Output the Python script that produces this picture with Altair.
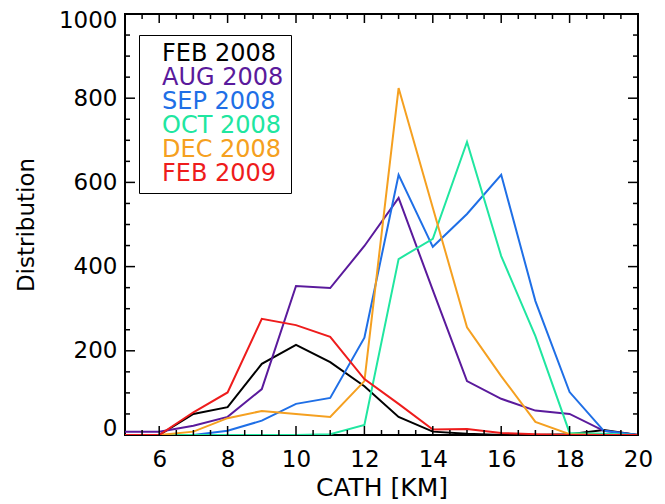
import altair as alt
import pandas as pd
import numpy as np

# ---- data ----
x_km = [5, 6, 7, 8, 9, 10, 11, 12, 13, 14, 15, 16, 17, 18, 19, 20]
series_names = ["FEB 2008", "AUG 2008", "SEP 2008", "OCT 2008", "DEC 2008", "FEB 2009"]
feb2008 = [0, 0, 50, 66, 169, 214, 173, 116, 43, 8, 3, 0, 0, 2, 12, 0]
aug2008 = [8, 8, 22, 43, 109, 354, 349, 449, 563, 344, 128, 86, 58, 50, 10, 0]
sep2008 = [0, 0, 0, 10, 34, 74, 88, 231, 618, 447, 525, 618, 318, 102, 10, 0]
oct2008 = [0, 0, 0, 0, 0, 0, 2, 24, 418, 466, 696, 425, 235, 5, 3, 0]
dec2008 = [0, 0, 8, 40, 57, 50, 43, 128, 824, 540, 256, 140, 31, 2, 0, 0]
feb2009 = [0, 0, 54, 101, 276, 261, 233, 133, 74, 13, 14, 5, 2, 0, 0, 0]
colors = ["#000000", "#5a1a9c", "#1f6fe6", "#20e6a0", "#f5a020", "#ee1c1c"]

values = [feb2008, aug2008, sep2008, oct2008, dec2008, feb2009]
rows = []
for name, vals in zip(series_names, values):
    for xv, yv in zip(x_km, vals):
        rows.append({"x": xv, "y": yv, "series": name})
df = pd.DataFrame(rows)

W, H = 513, 421
FONT = "DejaVu Sans"

xscale = alt.Scale(domain=[5, 20], nice=False, zero=False)
yscale = alt.Scale(domain=[0, 1000], nice=False)

xaxis = alt.Axis(title="CATH [KM]", values=list(range(6, 21, 2)),
                 format="d", ticks=False, tickSize=0, domain=False,
                 grid=False, labelFont=FONT, labelFontSize=23,
                 labelColor="black", labelPadding=13, labelFlush=False,
                 titleFont=FONT, titleFontSize=25,
                 titleFontWeight="normal", titleColor="black",
                 titlePadding=4)
yaxis = alt.Axis(title="Distribution", values=list(range(0, 1001, 200)),
                 format="d", ticks=False, tickSize=0, domain=False,
                 grid=False, labelFont=FONT, labelFontSize=23,
                 labelColor="black", labelPadding=8,
                 labelFlush=True, labelFlushOffset=5,
                 titleFont=FONT, titleFontSize=23,
                 titleFontWeight="normal", titleColor="black",
                 titlePadding=20)

lines = alt.Chart(df).mark_line(strokeWidth=2, clip=True).encode(
    x=alt.X("x:Q", scale=xscale, axis=xaxis),
    y=alt.Y("y:Q", scale=yscale, axis=yaxis),
    color=alt.Color("series:N",
                    scale=alt.Scale(domain=series_names, range=colors),
                    legend=alt.Legend(
                        title=None, orient="none", legendX=14, legendY=21,
                        symbolSize=0, symbolOpacity=0, symbolStrokeWidth=0,
                        labelOffset={"expr": "-8"}, labelFont=FONT, labelFontSize=24,
                        labelLimit=300, rowPadding={"expr": "-2"}, padding=7,
                        strokeColor="black", fillColor="white",
                        labelColor={"expr": "scale('color', datum.value)"})),
    detail="series:N",
)

# inward tick marks (IDL-style box axes)
x_major = pd.DataFrame({"t": np.arange(6, 20.01, 2)})
x_minor = pd.DataFrame({"t": [v for v in np.arange(5.5, 20, 0.5) if v % 2 != 0]})
y_major = pd.DataFrame({"t": np.arange(200, 1000, 200)})
y_minor = pd.DataFrame({"t": [v for v in np.arange(50, 1000, 50) if v % 200 != 0]})

def xticks(d, L):
    bot = alt.Chart(d).mark_rule(color="black", strokeWidth=1.5).encode(
        x=alt.X("t:Q", scale=xscale, axis=xaxis),
        y=alt.value(H), y2=alt.value(H - L))
    top = alt.Chart(d).mark_rule(color="black", strokeWidth=1.5).encode(
        x=alt.X("t:Q", scale=xscale, axis=xaxis),
        y=alt.value(0), y2=alt.value(L))
    return bot + top

def yticks(d, L):
    left = alt.Chart(d).mark_rule(color="black", strokeWidth=1.5).encode(
        y=alt.Y("t:Q", scale=yscale, axis=yaxis),
        x=alt.value(0), x2=alt.value(L))
    right = alt.Chart(d).mark_rule(color="black", strokeWidth=1.5).encode(
        y=alt.Y("t:Q", scale=yscale, axis=yaxis),
        x=alt.value(W), x2=alt.value(W - L))
    return left + right

chart = alt.layer(
    lines,
    xticks(x_major, 9), xticks(x_minor, 5),
    yticks(y_major, 10), yticks(y_minor, 5),
).properties(
    width=W, height=H,
    autosize=alt.AutoSizeParams(type="none"),
    padding={"left": 125, "top": 14, "right": 27, "bottom": 69},
    background="white",
).configure_view(
    stroke="black", strokeWidth=2,
)

chart.save("out.html", embed_options={"renderer": "svg", "actions": False})
